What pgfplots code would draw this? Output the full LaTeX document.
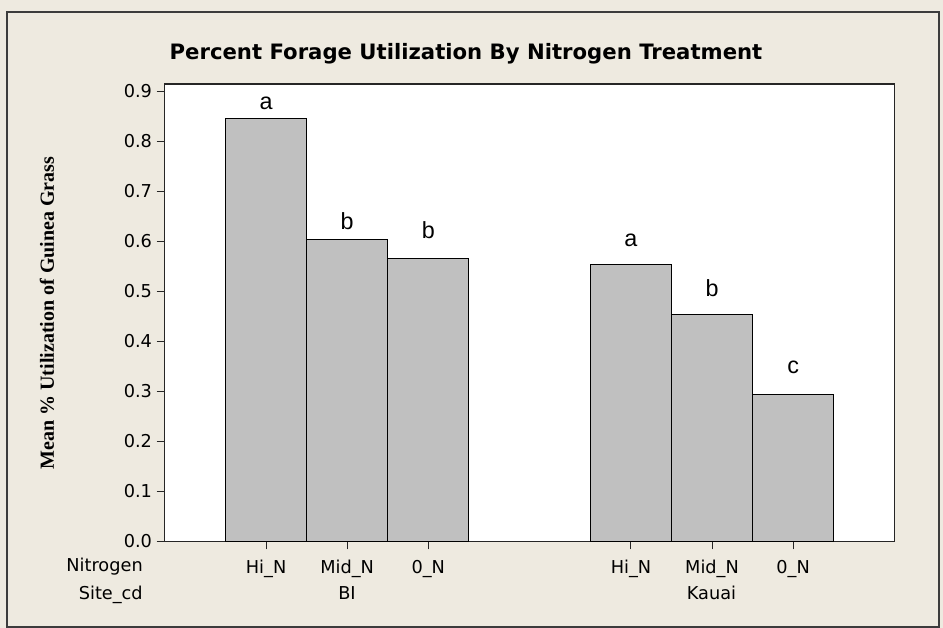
\documentclass[border=0pt]{standalone}
\usepackage{pgfplots}
\pgfplotsset{compat=1.18}
\usepackage{fontspec}
\setmainfont{DejaVu Sans}
\newfontfamily\arialfont{Liberation Sans}
\newfontfamily\timesfont{Liberation Serif}
\definecolor{bgbeige}{RGB}{238,234,224}
\definecolor{bargray}{RGB}{192,192,192}
\definecolor{framegray}{RGB}{60,60,60}
\begin{document}
\begin{tikzpicture}
\begin{scope}[x=0.75pt,y=-0.75pt]
\fill[bgbeige] (0,0) rectangle (943,628);
\draw[line width=1.1pt, framegray] (7,12) rectangle (939,627);
\node[anchor=base, inner sep=0pt, font=\fontsize{15.9}{18}\selectfont\bfseries] at (466,59.3) {Percent Forage Utilization By Nitrogen Treatment};
\node[rotate=90, inner sep=0pt, font=\timesfont\fontsize{15}{18}\selectfont\bfseries] at (47,313) {Mean \% Utilization of Guinea Grass};
\node[anchor=base east, inner sep=0pt, font=\fontsize{13.3}{15}\selectfont] at (143,571.7) {Nitrogen};
\node[anchor=base east, inner sep=0pt, font=\fontsize{13.3}{15}\selectfont] at (143,599.3) {Site\_cd};
\node[anchor=base, inner sep=0pt, font=\fontsize{13.3}{15}\selectfont] at (347,599.3) {BI};
\node[anchor=base, inner sep=0pt, font=\fontsize{13.3}{15}\selectfont] at (711.5,599.3) {Kauai};
\end{scope}
\begin{axis}[
  at={(123.53pt,-405.98pt)}, anchor=south west,
  scale only axis, width=547.35pt, height=343.1pt,
  xmin=-1.25, xmax=7.75, ymin=0, ymax=0.915,
  enlargelimits=false,
  axis background/.style={fill=white},
  axis line style={line width=1pt, black!85},
  ybar, bar width=1,
  xtick={0,1,2,4.5,5.5,6.5},
  xticklabels={Hi\_N,Mid\_N,0\_N,Hi\_N,Mid\_N,0\_N},
  ytick={0,0.1,0.2,0.3,0.4,0.5,0.6,0.7,0.8,0.9},
  tick align=outside, tick pos=left,
  major tick length=6pt,
  tick style={black!85, line width=0.8pt},
  yticklabel style={/pgf/number format/fixed, /pgf/number format/fixed zerofill, /pgf/number format/precision=1},
  /pgf/number format/assume math mode=true,
  tick label style={font=\fontsize{13.3}{15}\selectfont},
  xticklabel style={anchor=base, yshift=-18.5pt},
]
\addplot[fill=bargray, draw=black, line width=0.8pt] coordinates {(0,0.845) (1,0.604) (2,0.565) (4.5,0.553) (5.5,0.454) (6.5,0.294)};
\begin{scope}[every node/.style={anchor=base, inner sep=0pt, font=\arialfont\fontsize{17.5}{20}\selectfont}]
\node at (axis cs:0,0.863) {a};
\node at (axis cs:1,0.623) {b};
\node at (axis cs:2,0.605) {b};
\node at (axis cs:4.5,0.589) {a};
\node at (axis cs:5.5,0.489) {b};
\node at (axis cs:6.5,0.336) {c};
\end{scope}
\end{axis}
\end{tikzpicture}
\end{document}
